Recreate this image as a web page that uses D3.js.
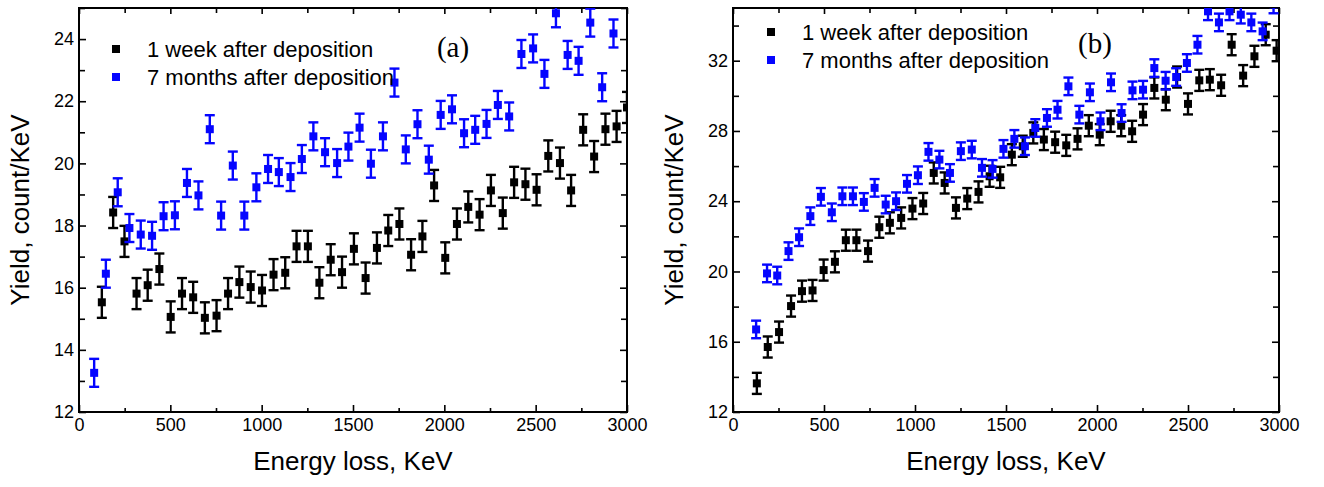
<!DOCTYPE html>
<html>
<head>
<meta charset="utf-8">
<script src="https://cdn.jsdelivr.net/npm/d3@7"></script>
<style>
  body { margin: 0; background: #fff; }
  svg text { font-family: "Liberation Sans", Arial, sans-serif; fill: #000; }
</style>
</head>
<body>
<div class="chart"></div>
<script>
// DATA ------------------------------------

const seriesNames = ['1 week after deposition', '7 months after deposition'];
const xTicks = [0, 500, 1000, 1500, 2000, 2500, 3000];
const yTicksA = [12, 14, 16, 18, 20, 22, 24];
const yTicksB = [12, 16, 20, 24, 28, 32];

// panel (a), 1 week
const xA_week = [125, 187, 249, 315, 376, 440, 502, 564, 625, 689, 753, 816, 878, 940, 1002, 1065,
  1129, 1191, 1253, 1316, 1378, 1440, 1505, 1569, 1631, 1693, 1754, 1818, 1880, 1944, 2005, 2069,
  2131, 2193, 2255, 2320, 2382, 2444, 2505, 2569, 2633, 2694, 2760, 2820, 2882, 2943, 3000];
const yA_week = [15.53, 18.42, 17.49, 15.81, 16.08, 16.6, 15.06, 15.81, 15.69, 15.03, 15.1, 15.81,
  16.18, 16.02, 15.91, 16.42, 16.48, 17.33, 17.33, 16.16, 16.9, 16.5, 17.25, 16.31, 17.28, 17.84,
  18.05, 17.06, 17.65, 19.29, 16.96, 18.05, 18.6, 18.35, 19.13, 18.4, 19.39, 19.33, 19.15, 20.24,
  20.01, 19.13, 21.08, 20.22, 21.1, 21.19, 21.8];

// panel (a), 7 months
const xA_month = [83, 147, 212, 276, 338, 400, 463, 525, 591, 654, 716, 778, 842, 905, 971, 1035,
  1094, 1158, 1220, 1283, 1347, 1413, 1475, 1536, 1598, 1664, 1727, 1789, 1853, 1915, 1980, 2042,
  2108, 2169, 2231, 2293, 2355, 2422, 2486, 2548, 2611, 2675, 2735, 2799, 2864, 2926];
const yA_month = [13.26, 16.45, 19.07, 17.92, 17.71, 17.67, 18.3, 18.33, 19.37, 18.97, 21.1, 18.32,
  19.93, 18.32, 19.23, 19.82, 19.72, 19.56, 20.14, 20.87, 20.36, 20.01, 20.54, 21.15, 19.99, 20.87,
  22.6, 20.45, 21.26, 20.12, 21.56, 21.74, 20.97, 21.08, 21.27, 21.88, 21.51, 23.52, 23.7, 22.88,
  24.83, 23.49, 23.3, 24.53, 22.45, 24.18];

// panel (b), 1 week
const xB_week = [131, 191, 253, 319, 379, 437, 498, 560, 620, 678, 742, 804, 862, 924, 986, 1045,
  1103, 1163, 1225, 1287, 1349, 1410, 1468, 1532, 1592, 1650, 1708, 1770, 1831, 1893, 1955, 2015,
  2075, 2133, 2193, 2253, 2315, 2378, 2440, 2500, 2562, 2620, 2682, 2740, 2803, 2865, 2927, 2987];
const yB_week = [13.63, 15.7, 16.55, 18.03, 18.88, 18.92, 20.08, 20.55, 21.78, 21.78, 21.16, 22.52,
  22.77, 23.05, 23.58, 23.87, 25.61, 25.04, 23.62, 24.15, 24.53, 25.42, 25.36, 26.65, 27.13, 27.89,
  27.51, 27.36, 27.18, 27.55, 28.3, 27.79, 28.55, 28.3, 27.98, 28.93, 30.45, 29.78, 31.07, 29.54,
  30.88, 30.92, 30.6, 32.91, 31.15, 32.25, 33.48, 32.57];

// panel (b), 7 months
const xB_month = [127, 187, 243, 305, 363, 425, 483, 543, 601, 659, 719, 778, 839, 896, 956, 1016,
  1074, 1134, 1192, 1252, 1312, 1368, 1426, 1486, 1546, 1604, 1661, 1725, 1783, 1843, 1903, 1961,
  2019, 2077, 2135, 2195, 2253, 2315, 2377, 2435, 2494, 2552, 2610, 2670, 2728, 2790, 2848, 2910, 2970];
const yB_month = [16.7, 19.89, 19.77, 21.16, 21.95, 23.15, 24.25, 23.37, 24.28, 24.28, 23.96, 24.76,
  23.81, 24.0, 24.99, 25.48, 26.81, 26.37, 25.61, 26.85, 26.94, 25.9, 25.84, 26.98, 27.55, 27.13,
  28.17, 28.74, 29.21, 30.54, 28.93, 30.2, 28.55, 30.77, 29.02, 30.31, 30.35, 31.58, 30.86, 31.07,
  31.87, 32.91, 34.81, 34.18, 34.81, 34.62, 34.18, 33.67, 35.2];

// error bar half widths per series
const errA = [0.5, 0.45];
const errB = [0.6, 0.5];

const colors = ['#000000', '#0505ff'];

// CHART INIT ------------------------------

const svg = d3.select('.chart').append('svg')
  .attr('width', 1324)
  .attr('height', 487);

function drawPanel(p) {
  const xScale = d3.scaleLinear().domain([0, 3000]).range([p.left, p.right]);
  const yScale = d3.scaleLinear().domain(p.yDomain).range([p.bottom, p.top]);

  const g = svg.append('g');

  const clipId = 'clip-' + p.name;
  svg.append('clipPath').attr('id', clipId)
    .append('rect')
    .attr('x', p.left).attr('y', p.top)
    .attr('width', p.right - p.left).attr('height', p.bottom - p.top);

  // minor ticks
  const xMinor = d3.range(250, 3000, 500);
  const yMinor = p.yMinor;
  const fmt = d3.format('d');

  const axes = [
    { ax: d3.axisBottom(xScale).tickValues(xTicks).tickSizeInner(-7).tickSizeOuter(0).tickPadding(6).tickFormat(fmt), t: `translate(0,${p.bottom})` },
    { ax: d3.axisBottom(xScale).tickValues(xMinor).tickSizeInner(-4).tickSizeOuter(0).tickFormat(''), t: `translate(0,${p.bottom})` },
    { ax: d3.axisTop(xScale).tickValues(xTicks).tickSizeInner(-6).tickSizeOuter(0).tickFormat(''), t: `translate(0,${p.top})` },
    { ax: d3.axisTop(xScale).tickValues(xMinor).tickSizeInner(-5).tickSizeOuter(0).tickFormat(''), t: `translate(0,${p.top})` },
    { ax: d3.axisLeft(yScale).tickValues(p.yTicks).tickSizeInner(-7).tickSizeOuter(0).tickPadding(5).tickFormat(fmt), t: `translate(${p.left},0)` },
    { ax: d3.axisLeft(yScale).tickValues(yMinor).tickSizeInner(-6).tickSizeOuter(0).tickFormat(''), t: `translate(${p.left},0)` },
    { ax: d3.axisRight(yScale).tickValues(p.yTicks).tickSizeInner(-7).tickSizeOuter(0).tickFormat(''), t: `translate(${p.right},0)` },
    { ax: d3.axisRight(yScale).tickValues(yMinor).tickSizeInner(-6).tickSizeOuter(0).tickFormat(''), t: `translate(${p.right},0)` }
  ];

  axes.forEach((a) => {
    const ag = g.append('g').attr('transform', a.t).call(a.ax);
    ag.select('.domain').remove();
    ag.selectAll('line').attr('stroke', '#000').attr('stroke-width', 1.6);
    ag.selectAll('text').attr('font-size', 18).attr('font-family', '"Liberation Sans", Arial, sans-serif');
  });

  // frame
  g.append('rect')
    .attr('x', p.left).attr('y', p.top)
    .attr('width', p.right - p.left).attr('height', p.bottom - p.top)
    .attr('fill', 'none').attr('stroke', '#000').attr('stroke-width', 2);

  // data points with error bars
  const plot = g.append('g').attr('clip-path', `url(#${clipId})`);
  p.series.forEach((s, i) => {
    const pts = s.x.map((x, j) => ({ x: x, y: s.y[j], e: p.err[i] }));
    const pg = plot.append('g').attr('stroke', colors[i]).attr('fill', colors[i]);
    const pt = pg.selectAll('g').data(pts).enter().append('g');
    pt.append('line')
      .attr('x1', (d) => xScale(d.x)).attr('x2', (d) => xScale(d.x))
      .attr('y1', (d) => yScale(d.y - d.e)).attr('y2', (d) => yScale(d.y + d.e))
      .attr('stroke-width', 2.4);
    [-1, 1].forEach((k) => {
      pt.append('line')
        .attr('x1', (d) => xScale(d.x) - 5).attr('x2', (d) => xScale(d.x) + 5)
        .attr('y1', (d) => yScale(d.y + k * d.e)).attr('y2', (d) => yScale(d.y + k * d.e))
        .attr('stroke-width', 2.4);
    });
    pt.append('rect')
      .attr('x', (d) => xScale(d.x) - 4).attr('y', (d) => yScale(d.y) - 4)
      .attr('width', 8).attr('height', 8)
      .attr('stroke', 'none');
  });

  // legend
  seriesNames.forEach((name, i) => {
    const ly = p.legendY + i * 28;
    g.append('rect')
      .attr('x', p.legendX - 4).attr('y', ly - 4)
      .attr('width', 8).attr('height', 8)
      .attr('fill', colors[i]);
    g.append('text')
      .attr('x', p.legendX + 31).attr('y', ly)
      .attr('dy', '0.35em')
      .attr('font-size', 22)
      .text(name);
  });

  // panel label
  g.append('text')
    .attr('x', p.labelX).attr('y', p.labelY)
    .attr('text-anchor', 'middle')
    .attr('font-size', 29)
    .style('font-family', '"Liberation Serif", "Times New Roman", serif')
    .text(p.label);

  // axis titles
  g.append('text')
    .attr('x', (p.left + p.right) / 2).attr('y', 470)
    .attr('text-anchor', 'middle')
    .attr('font-size', 26)
    .text('Energy loss, KeV');

  g.append('text')
    .attr('transform', `translate(${p.yTitleX},${(p.top + p.bottom) / 2}) rotate(-90)`)
    .attr('text-anchor', 'middle')
    .attr('font-size', 26)
    .text('Yield, count/KeV');
}

drawPanel({
  name: 'a', left: 79, right: 627, top: 8, bottom: 412,
  yDomain: [12, 25], yTicks: yTicksA, yMinor: [13, 15, 17, 19, 21, 23, 25],
  series: [{ x: xA_week, y: yA_week }, { x: xA_month, y: yA_month }],
  err: errA,
  legendX: 116, legendY: 49, label: '(a)', labelX: 453, labelY: 57, yTitleX: 29
});

drawPanel({
  name: 'b', left: 733, right: 1279, top: 8, bottom: 412,
  yDomain: [12, 35], yTicks: yTicksB, yMinor: [14, 18, 22, 26, 30, 34],
  series: [{ x: xB_week, y: yB_week }, { x: xB_month, y: yB_month }],
  err: errB,
  legendX: 771, legendY: 32, label: '(b)', labelX: 1095, labelY: 53, yTitleX: 683
});
</script>
</body>
</html>
